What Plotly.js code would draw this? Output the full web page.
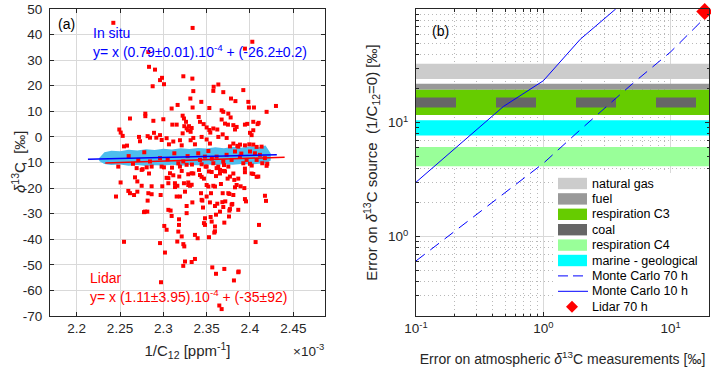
<!DOCTYPE html>
<html>
<head>
<meta charset="utf-8">
<script src="https://cdn.plot.ly/plotly-3.0.1.min.js"></script>
<style>
  html, body { margin: 0; padding: 0; background: #fff; }
  #chart { width: 711px; height: 367px; }
</style>
</head>
<body>
<div id="chart"></div>
<script>
// ---- panel (a): lidar points, x in 1e-3 ppm^-1, y in permil
var lidarX = [
  2.2423, 2.3338, 2.4027, 2.3942, 2.2827, 2.2835, 2.2904, 2.3231, 2.3335, 2.2985, 2.2962, 2.2877, 2.3008,
  2.3635, 2.3581, 2.3577, 2.3346, 2.3923, 2.3781, 2.3832, 2.3312, 2.3438, 2.3692, 2.3981, 2.4046, 2.3988,
  2.4300, 2.4192, 2.3165, 2.3096, 2.3338, 2.3531, 2.3673,
  2.3692, 2.3750, 2.2615, 2.2792, 2.2792, 2.2885, 2.3000, 2.3104, 2.3154, 2.3223, 2.3238, 2.3262, 2.3242,
  2.3269, 2.3296, 2.3327, 2.3285, 2.3315, 2.3223, 2.3408, 2.3423, 2.3465, 2.3500, 2.3531, 2.3542, 2.3577,
  2.3623, 2.3673, 2.3712, 2.3746, 2.3777, 2.3808, 2.3827, 2.3846, 2.3942, 2.3969, 2.4038, 2.4088, 2.4100,
  2.4038, 2.4000, 2.4019, 2.2492, 2.2508, 2.2531, 2.2546, 2.2581, 2.2719, 2.2731, 2.2819, 2.2846, 2.2892,
  2.2919, 2.2962, 2.2981, 2.3038, 2.3065, 2.3115, 2.3192, 2.3212, 2.3315, 2.3346, 2.3365, 2.3442, 2.3500,
  2.3538, 2.3635, 2.3685, 2.3731, 2.3769, 2.3808, 2.3854, 2.3885, 2.3942, 2.3992, 2.4038, 2.4077,
  2.2480, 2.2711, 2.2761, 2.2846, 2.2865, 2.2980, 2.2962, 2.3127, 2.3173, 2.3192, 2.3230, 2.3403, 2.3423,
  2.3442, 2.3480, 2.3500, 2.3577, 2.3615, 2.3634, 2.3654, 2.3692, 2.3730, 2.3750, 2.3788, 2.3827, 2.3865,
  2.3884, 2.3923, 2.3961, 2.4000, 2.4057, 2.4077, 2.4115, 2.4134, 2.4172, 2.2600, 2.2650, 2.2780, 2.3050,
  2.3100, 2.3280, 2.3330, 2.3520, 2.3560, 2.3700, 2.3900, 2.4020, 2.4200,
  2.2692, 2.2750, 2.2808, 2.3007, 2.3077, 2.3184, 2.3269, 2.3238, 2.2673, 2.2700, 2.2507, 2.2596, 2.2615,
  2.2662, 2.2700, 2.2454, 2.2750, 2.2827, 2.2865, 2.2819, 2.2788, 2.2815, 2.2969, 2.3058, 2.3084, 2.3096,
  2.3154, 2.3192, 2.3134, 2.3058, 2.3011, 2.3038, 2.2962, 2.3019, 2.2546, 2.2973, 2.3181, 2.3181, 2.3173,
  2.3161, 2.3242, 2.3230, 2.3250, 2.3269, 2.3250, 2.3288, 2.3058, 2.3327, 2.3288, 2.3308, 2.3412, 2.3423,
  2.3435, 2.3450, 2.3335, 2.3269, 2.3488, 2.3527, 2.3500, 2.3519, 2.3596, 2.3550, 2.3500, 2.3538, 2.3596,
  2.3481, 2.3558, 2.3654, 2.3681, 2.3762, 2.3808, 2.3796, 2.3865, 2.3762, 2.3704, 2.3588, 2.3527, 2.3481,
  2.3396, 2.3365, 2.3327, 2.3365, 2.3565, 2.3608, 2.3704, 2.3865, 2.3815, 2.3646, 2.3673, 2.4065, 2.4104,
  2.4173, 2.4185, 2.3942, 2.3935, 2.3846, 2.3819, 2.3769, 2.3712, 2.3942, 2.4038, 2.4096, 2.4192, 2.4142,
  2.4000, 2.3665, 2.3827, 2.3615, 2.2865, 2.2988, 2.3135, 2.3162, 2.3327, 2.3442, 2.3458, 2.3469, 2.3546,
  2.3596, 2.3596, 2.3608, 2.3623, 2.3685, 2.3692, 2.3715, 2.3750, 2.3758, 2.3769, 2.3788, 2.3869, 2.3892,
  2.3954, 2.2777, 2.3577, 2.3212, 2.3231, 2.2835, 2.3038, 2.3115, 2.3212, 2.3288, 2.3346, 2.3442, 2.3469,
  2.3558, 2.3608, 2.3654, 2.3700, 2.3742, 2.3808, 2.3865, 2.3942, 2.4019, 2.4077
];
var lidarY = [
  44.6, 42.6, 37.2, 34.5, 33.2, 27.4, 26.3, 23.7, 22.8, 23.1, 22.2, 19.8, 20.6,
  20.5, 19.6, 18.0, 17.9, 18.3, 15.0, 14.0, 15.0, 13.7, 17.5, 13.7, 11.5, 11.5,
  12.1, 9.8, 12.5, 11.1, 11.5, 11.3, 10.4,
  9.8, 9.1, 7.2, 9.1, 8.1, 6.3, 6.9, 4.8, 4.8, 8.3, 7.2, 5.9, 4.2,
  3.3, 4.2, 3.5, 2.6, 2.0, 1.4, 7.8, 5.9, 5.0, 3.7, 2.7, 1.7, 3.3,
  2.9, 6.8, 5.2, 4.8, 7.6, 4.6, 2.9, 3.9, 4.8, 5.1, 5.9, 5.0, 5.5,
  2.6, 1.6, 0.7, 2.9, 1.7, 0.4, -3.7, -3.4, 0.0, -1.7, 0.3, -0.3, 1.6,
  -0.3, 0.7, -1.2, -0.5, -2.9, -1.8, -1.3, -3.3, -1.3, -0.4, -2.9, 0.0, -1.0,
  -2.6, 0.0, 1.0, -0.4, -3.7, -2.6, -3.5, -3.0, -3.3, -2.9, -3.0, -3.9,
  -11.6, -9.0, -12.6, -9.6, -11.6, -11.6, -8.3, -6.4, -10.3, -11.6, -9.6, -6.4, -9.0,
  -10.7, -7.7, -11.6, -10.3, -7.7, -11.6, -12.9, -9.6, -7.0, -11.6, -9.0, -5.7, -3.8,
  -7.7, -10.3, -9.0, -5.7, -6.4, -9.0, -7.0, -3.8, -8.3, -7.5, -10.5, -6.0, -8.8,
  -12.0, -7.5, -10.8, -5.5, -8.5, -11.0, -6.5, -11.2, -10.5,
  -12.2, -12.9, -11.9, -11.9, -14.2, -15.5, -10.9, -18.1, -15.8, -17.4, -17.8, -21.1, -22.0,
  -22.7, -21.4, -23.3, -19.1, -22.0, -22.4, -24.9, -29.2, -29.2, -22.7, -28.5, -28.8, -30.9,
  -23.3, -23.3, -18.1, -18.1, -34.8, -36.3, -41.5, -45.2, -41.0, -56.8, -32.2, -34.4, -37.0,
  -40.9, -42.8, -50.4, -48.7, -27.0, -21.4, -18.8, -16.1, -14.2, -17.8, -19.1, -12.9, -14.9,
  -22.0, -24.9, -25.6, -29.8, -11.6, -13.5, -18.8, -19.4, -19.4, -22.0, -23.3, -25.6, -27.0,
  -31.8, -33.1, -29.2, -25.5, -22.3, -22.7, -26.2, -28.5, -28.8, -33.5, -37.4, -39.2, -34.4,
  -39.6, -38.3, -48.9, -47.7, -51.0, -53.5, -51.6, -52.9, -56.1, -65.9, -67.3, -41.1, -34.4,
  -23.0, -25.0, -24.3, -20.0, -18.8, -16.8, -15.5, -13.5, -13.8, -14.5, -15.5, -11.3, -10.3,
  -10.5, -18.4, -19.7, -12.2, -19.3, -19.3, -19.6, -19.1, -18.7, -24.6, -27.6, -33.7, -31.3,
  -35.0, -36.9, -30.4, -26.1, -22.0, -27.4, -25.2, -22.0, -31.1, -28.2, -26.5, -52.6, -19.3,
  -25.2, -29.4, -19.1, -38.9, -41.9, -14.3, -16.0, -15.0, -13.3, -14.6, -14.3, -15.6, -16.3,
  -13.7, -15.3, -14.3, -13.3, -16.3, -14.3, -16.3, -12.4, -14.3, -15.6
];

// in situ cloud, upper and lower edge
var insituX      = [2.226, 2.232, 2.24, 2.25, 2.26, 2.27, 2.28, 2.29, 2.30, 2.31, 2.32, 2.33, 2.34, 2.35, 2.36, 2.37, 2.38, 2.39, 2.40, 2.41, 2.418, 2.424];
var insituTop    = [-8.2, -6.0, -5.4, -5.6, -5.0, -5.3, -4.8, -5.1, -4.6, -4.9, -4.4, -4.7, -4.3, -4.5, -4.0, -4.4, -3.8, -4.2, -3.6, -4.0, -3.4, -6.5];
var insituBottom = [-9.4, -10.6, -11.0, -10.8, -11.3, -11.0, -11.4, -11.1, -11.2, -10.9, -11.3, -11.0, -11.1, -10.8, -11.0, -10.7, -10.9, -10.6, -10.8, -10.5, -10.4, -9.2];

// fits y = a*x + b  (x in 1e-3 ppm^-1)
var insituFit = {a: 7.9, b: -26.2, x: [2.213, 2.431]};
var lidarFit  = {a: 11.1, b: -35, x: [2.233, 2.440]};

// ---- panel (b)
var sourceNames  = ['natural gas', 'fuel', 'respiration C3', 'coal', 'respiration C4', 'marine - geological'];
var sourceLow    = [24.3, 19.5, 11.7, 13.6, 4.14, 7.74];
var sourceHigh   = [33, 22, 19.5, 16.7, 6.12, 10.5];
var sourceColors = ['#cccccc', '#999999', '#66cc00', '#666666', '#99ff99', '#00ffff'];

var mcErr   = [0.1, 0.2, 0.5, 1, 2, 5, 10, 20];
var mc70h   = [0.61, 1.10, 2.43, 4.4, 8.9, 22, 42, 91];
var mc10hX  = [0.1, 0.486, 1.0, 1.95, 3.7];
var mc10h   = [3.0, 13.9, 23.4, 54.2, 100];
var lidar70hX = [18.5];
var lidar70h  = [95];

var xmin2 = 0.1, xmax2 = 20;

// pixel -> paper helpers
var W = 711, H = 367, ML = 50, MR = 2, MT = 9, MB = 51;
var PW = W - ML - MR, PH = H - MT - MB;
function pxX(v) { return (v - ML) / PW; }
function pxY(v) { return 1 - (v - MT) / PH; }

var traces = [];

// in situ band
traces.push({
  x: insituX.concat(insituX.slice().reverse()),
  y: insituTop.concat(insituBottom.slice().reverse()),
  xaxis: 'x', yaxis: 'y', type: 'scatter', mode: 'lines',
  fill: 'toself', fillcolor: '#4dbeee', line: {width: 0, color: '#4dbeee'},
  hoverinfo: 'skip', showlegend: false
});
traces.push({
  x: lidarX, y: lidarY, xaxis: 'x', yaxis: 'y', type: 'scatter', mode: 'markers',
  marker: {symbol: 'square', size: 4, color: '#ff0000'}, showlegend: false
});
traces.push({
  x: lidarFit.x, y: lidarFit.x.map(function (v) { return lidarFit.a * v + lidarFit.b; }),
  xaxis: 'x', yaxis: 'y', type: 'scatter', mode: 'lines',
  line: {color: '#ff0000', width: 1.5}, showlegend: false
});
traces.push({
  x: insituFit.x, y: insituFit.x.map(function (v) { return insituFit.a * v + insituFit.b; }),
  xaxis: 'x', yaxis: 'y', type: 'scatter', mode: 'lines',
  line: {color: '#0000ff', width: 1.5}, showlegend: false
});

// source bands
for (var i = 0; i < sourceNames.length; i++) {
  if (sourceNames[i] === 'coal') {
    var mid = Math.sqrt(sourceLow[i] * sourceHigh[i]);
    traces.push({
      x: [xmin2, xmax2], y: [mid, mid], xaxis: 'x2', yaxis: 'y2', type: 'scatter', mode: 'lines',
      line: {color: sourceColors[i], width: 10, dash: '40px,40px'}, showlegend: false
    });
  } else {
    traces.push({
      x: [xmin2, xmax2, xmax2, xmin2], y: [sourceLow[i], sourceLow[i], sourceHigh[i], sourceHigh[i]],
      xaxis: 'x2', yaxis: 'y2', type: 'scatter', mode: 'lines', fill: 'toself',
      fillcolor: sourceColors[i], line: {width: 0, color: sourceColors[i]}, showlegend: false
    });
  }
}
traces.push({
  x: mcErr, y: mc70h, xaxis: 'x2', yaxis: 'y2', type: 'scatter', mode: 'lines',
  line: {color: '#0000ff', width: 1, dash: '11px,7px'}, showlegend: false
});
traces.push({
  x: mc10hX, y: mc10h, xaxis: 'x2', yaxis: 'y2', type: 'scatter', mode: 'lines',
  line: {color: '#0000ff', width: 1}, showlegend: false
});
traces.push({
  x: lidar70hX, y: lidar70h, xaxis: 'x2', yaxis: 'y2', type: 'scatter', mode: 'markers',
  marker: {symbol: 'diamond', size: 13, color: '#ff0000'}, cliponaxis: false, showlegend: false
});

// legend drawn by hand (MATLAB-like compact rows)
var shapes = [{
  type: 'rect', xref: 'paper', yref: 'paper', x0: pxX(554), x1: pxX(709), y0: pxY(173), y1: pxY(316),
  fillcolor: '#ffffff', line: {width: 0}, layer: 'above'
}];
var annotations = [];
var legendNames = sourceNames.concat(['Monte Carlo 70 h', 'Monte Carlo 10 h', 'Lidar 70 h']);
for (var k = 0; k < legendNames.length; k++) {
  var row = 183.5 + k * 15.4;
  if (k < sourceNames.length) {
    shapes.push({type: 'rect', xref: 'paper', yref: 'paper', x0: pxX(558), x1: pxX(587),
      y0: pxY(row + 5.7), y1: pxY(row - 5.7), fillcolor: sourceColors[k], line: {width: 0}, layer: 'above'});
  } else if (k === sourceNames.length) {
    shapes.push({type: 'line', xref: 'paper', yref: 'paper', x0: pxX(558), x1: pxX(588),
      y0: pxY(row), y1: pxY(row), line: {color: '#0000ff', width: 1, dash: '10px,5px'}, layer: 'above'});
  } else if (k === sourceNames.length + 1) {
    shapes.push({type: 'line', xref: 'paper', yref: 'paper', x0: pxX(558), x1: pxX(588),
      y0: pxY(row), y1: pxY(row), line: {color: '#0000ff', width: 1}, layer: 'above'});
  } else {
    var cx = 572, d = 6;
    shapes.push({type: 'path', xref: 'paper', yref: 'paper',
      path: 'M' + pxX(cx - d) + ',' + pxY(row) + ' L' + pxX(cx) + ',' + pxY(row - d) +
            ' L' + pxX(cx + d) + ',' + pxY(row) + ' L' + pxX(cx) + ',' + pxY(row + d) + ' Z',
      fillcolor: '#ff0000', line: {width: 0}, layer: 'above'});
  }
  annotations.push({xref: 'paper', yref: 'paper', x: pxX(590), y: pxY(row), xanchor: 'left', yanchor: 'middle',
    text: legendNames[k], showarrow: false, font: {size: 12.5, color: '#000'}});
}

// panel texts
function label(text, x, y, color, size, anchor, angle) {
  annotations.push({xref: 'paper', yref: 'paper', x: pxX(x), y: pxY(y), xanchor: anchor || 'left', yanchor: 'middle',
    text: text, showarrow: false, textangle: angle || 0, font: {size: size || 14, color: color}});
}
label('(a)', 66, 24, '#000', 14, 'center');
label('(b)', 440, 31, '#000', 14, 'center');
label('In situ', 91, 33, '#0000ff', 14);
label('y= x (0.79±0.01).10<sup>-4</sup> + (-26.2±0.2)', 91, 51, '#0000ff', 14);
label('Lidar', 88, 278, '#ff0000', 14);
label('y= x (1.11±3.95).10<sup>-4</sup> + (-35±92)', 88, 296, '#ff0000', 14);
label('×10<sup>-3</sup>', 326, 350, '#262626', 13.5, 'right');
label('<i>δ</i><sup>13</sup>C\u00a0\u00a0[‰]', 18, 162, '#262626', 15, 'center', -90);

var grid = '#d9d9d9';
var axCommon = {
  showline: true, linecolor: '#262626', linewidth: 1, mirror: 'ticks',
  ticks: 'inside', ticklen: 4, tickcolor: '#262626',
  showgrid: true, gridcolor: grid, zeroline: false,
  tickfont: {size: 13.5, color: '#262626'}
};
function ax(extra) { return Object.assign({}, axCommon, extra); }

var minorVals = [0.2, 0.3, 0.4, 0.5, 0.6, 0.7, 0.8, 0.9, 2, 3, 4, 5, 6, 7, 8, 9, 20, 30, 40, 50, 60, 70, 80, 90];
var minorCfg = {tickmode: 'array', tickvals: minorVals, ticks: 'inside', ticklen: 2.5, tickcolor: '#262626',
  showgrid: true, gridcolor: '#b8b8b8', griddash: '1px,3px', gridwidth: 1};

var layout = {
  width: W, height: H,
  margin: {l: ML, r: MR, t: MT, b: MB},
  paper_bgcolor: '#ffffff', plot_bgcolor: '#ffffff',
  font: {family: 'Liberation Sans, Arial, sans-serif', color: '#262626'},
  showlegend: false,
  xaxis: ax({
    domain: [0, 275 / PW], range: [2.1692, 2.4866],
    tickmode: 'array', tickvals: [2.2, 2.25, 2.3, 2.35, 2.4, 2.45],
    ticktext: ['2.2', '2.25', '2.3', '2.35', '2.4', '2.45'],
    title: {text: '1/C<sub>12</sub> [ppm<sup>-1</sup>]', font: {size: 15, color: '#262626'}, standoff: 10}
  }),
  yaxis: ax({
    domain: [0, 1], range: [-70, 50],
    tickmode: 'array', tickvals: [50, 40, 30, 20, 10, 0, -10, -20, -30, -40, -50, -60, -70],
    ticktext: ['50', '40', '30', '20', '10', '0', '-10', '-20', '-30', '-40', '-50', '-60', '-70'],
    ticklabelstandoff: 4
  }),
  xaxis2: ax({
    anchor: 'y2', domain: [366 / PW, 1], type: 'log', range: [-1, Math.log10(20)],
    tickmode: 'array', tickvals: [0.1, 1, 10],
    ticktext: ['10<sup>-1</sup>', '10<sup>0</sup>', '10<sup>1</sup>'],
    minor: minorCfg,
    title: {text: 'Error on atmospheric <i>δ</i><sup>13</sup>C measurements [‰]', font: {size: 14, color: '#262626'}, standoff: 20}
  }),
  yaxis2: ax({
    anchor: 'x2', domain: [0, 1], type: 'log', range: [Math.log10(0.2), 2],
    tickmode: 'array', tickvals: [1, 10, 100],
    ticktext: ['10<sup>0</sup>', '10<sup>1</sup>', '10<sup>2</sup>'],
    ticklabelstandoff: 4,
    minor: minorCfg,
    title: {text: 'Error on <i>δ</i><sup>13</sup>C source\u00a0\u00a0(1/C<sub>12</sub>=0) [‰]', font: {size: 15, color: '#262626'}, standoff: 6}
  }),
  shapes: shapes,
  annotations: annotations
};

Plotly.newPlot('chart', traces, layout, {displayModeBar: false, staticPlot: true});
</script>
</body>
</html>
